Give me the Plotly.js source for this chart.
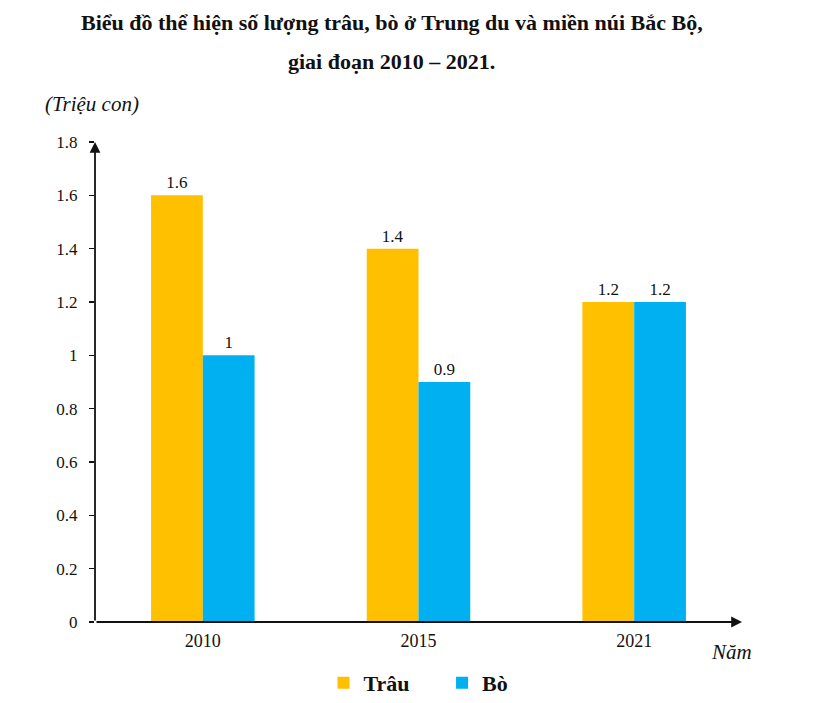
<!DOCTYPE html>
<html>
<head>
<meta charset="utf-8">
<script src="https://cdn.plot.ly/plotly-3.0.1.min.js"></script>
<style>html,body{margin:0;padding:0;background:#fff}#chart{width:818px;height:703px}</style>
</head>
<body>
<div id="chart"></div>
<script>
const years = ['2010', '2015', '2021'];
const trau = [1.6, 1.4, 1.2];
const bo = [1.0, 0.9, 1.2];
const trauLabels = ['1.6', '1.4', '1.2'];
const boLabels = ['1', '0.9', '1.2'];
const yTicks = [0, 0.2, 0.4, 0.6, 0.8, 1, 1.2, 1.4, 1.6, 1.8];

const serif = 'Liberation Serif, Times New Roman, serif';
const pad = '\u00A0\u00A0\u00A0\u00A0\u00A0';

function bar(name, y, text, color) {
  return { type: 'bar', name: name, x: years, y: y, text: text,
    textposition: 'outside', cliponaxis: false,
    textfont: { family: serif, size: 17, color: '#111' },
    marker: { color: color }, hoverinfo: 'skip' };
}

const traces = [
  bar('Trâu' + pad, trau, trauLabels, '#FFC000'),
  bar('Bò', bo, boLabels, '#00B0F0'),
];

const layout = {
  width: 818, height: 703,
  margin: { l: 95, r: 76, t: 142, b: 81, autoexpand: false },
  paper_bgcolor: '#fff', plot_bgcolor: '#fff',
  font: { family: serif, size: 17, color: '#111' },
  barmode: 'group', bargap: 0.52, bargroupgap: 0,
  showlegend: true,
  legend: { orientation: 'h', x: 0.5, xanchor: 'center', y: -0.127, yanchor: 'middle',
    font: { family: serif, size: 22, color: '#111', weight: 'bold' }, itemwidth: 30,
    tracegroupgap: 0 },
  xaxis: { type: 'category', range: [-0.5, 2.5], showline: false, showgrid: false,
    zeroline: false, ticks: '', ticklabelstandoff: 6, tickfont: { family: serif, size: 18 }, fixedrange: true },
  yaxis: { range: [0, 1.8], tickvals: yTicks, ticktext: yTicks.map(v => String(v)),
    showgrid: false, zeroline: false, showline: false, ticks: 'outside', ticklen: 5,
    tickcolor: '#111', tickwidth: 1.5, ticklabelstandoff: 8,
    tickfont: { family: serif, size: 17 }, fixedrange: true },
  annotations: [
    { xref: 'paper', yref: 'paper', x: 0.459, y: 1.25, xanchor: 'center', yanchor: 'middle', showarrow: false,
      text: '<b>Biểu đồ thể hiện số lượng trâu, bò ở Trung du và miền núi Bắc Bộ,</b>',
      font: { family: serif, size: 22, color: '#111' } },
    { xref: 'paper', yref: 'paper', x: 0.459, y: 1.167, xanchor: 'center', yanchor: 'middle', showarrow: false,
      text: '<b>giai đoạn 2010 – 2021.</b>',
      font: { family: serif, size: 22, color: '#111' } },
    { xref: 'paper', yref: 'paper', x: -0.005, y: 1.079, xanchor: 'center', yanchor: 'middle', showarrow: false,
      text: '<i>(Triệu con)</i>', font: { family: serif, size: 21, color: '#111' } },
    { xref: 'paper', yref: 'paper', x: 0.983, y: -0.0625, xanchor: 'center', yanchor: 'middle', showarrow: false,
      text: '<i>Năm</i>', font: { family: serif, size: 21, color: '#111' } },
    // axis arrows
    { xref: 'x', yref: 'y', axref: 'x', ayref: 'y', x: -0.5, y: 1.8, ax: -0.5, ay: 0,
      showarrow: true, arrowhead: 2, arrowsize: 1.2, arrowwidth: 1.8, arrowcolor: '#111',
      text: '', standoff: 0, startstandoff: 0 },
    { xref: 'x', yref: 'y', axref: 'x', ayref: 'y', x: 2.5, y: 0, ax: -0.5, ay: 0,
      showarrow: true, arrowhead: 2, arrowsize: 1.2, arrowwidth: 1.8, arrowcolor: '#111',
      text: '', standoff: 0, startstandoff: 0 },
  ],
};

Plotly.newPlot('chart', traces, layout, { displayModeBar: false, staticPlot: true });
</script>
</body>
</html>
